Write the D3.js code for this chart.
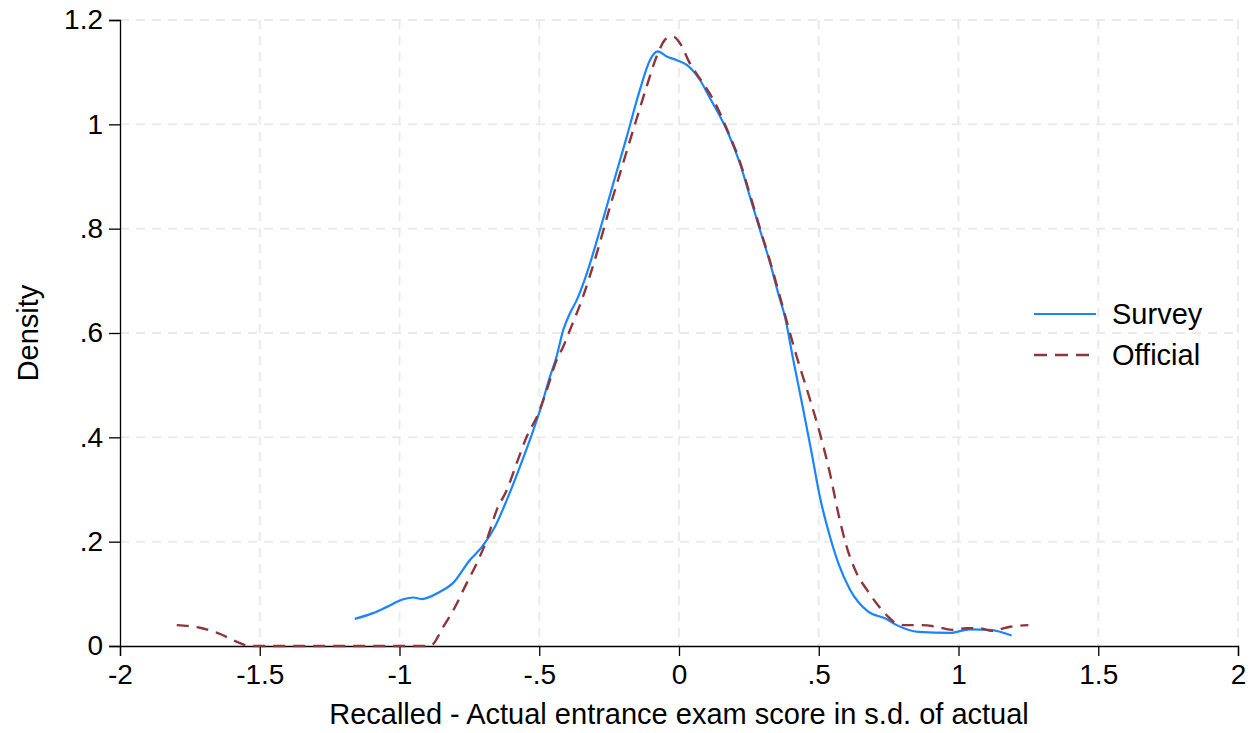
<!DOCTYPE html>
<html>
<head>
<meta charset="utf-8">
<script src="https://cdn.jsdelivr.net/npm/d3@7"></script>
<style>
  html, body { margin: 0; padding: 0; background: #fff; }
  svg { display: block; font-family: "Liberation Sans", Arial, Helvetica, sans-serif; }
</style>
</head>
<body>
<svg id="chart" width="1257" height="733"></svg>
<script>
// Kernel density of (recalled - actual) entrance exam score, two sources
const surveyX = [-1.16, -1.095, -1.045, -0.987, -0.951, -0.921, -0.855, -0.808, -0.748, -0.705, -0.658, -0.616, -0.569, -0.521, -0.497, -0.462, -0.438, -0.414, -0.39, -0.366, -0.33, -0.283, -0.235, -0.187, -0.14, -0.104, -0.076, -0.044, -0.008, 0.028, 0.075, 0.111, 0.147, 0.176, 0.218, 0.254, 0.29, 0.326, 0.355, 0.379, 0.409, 0.445, 0.475, 0.504, 0.54, 0.57, 0.612, 0.677, 0.737, 0.779, 0.856, 0.97, 1.041, 1.113, 1.19];
const surveyY = [0.052, 0.063, 0.075, 0.0895, 0.093, 0.090, 0.104, 0.121, 0.165, 0.190, 0.229, 0.280, 0.344, 0.414, 0.452, 0.516, 0.555, 0.606, 0.638, 0.663, 0.714, 0.797, 0.887, 0.976, 1.066, 1.123, 1.140, 1.130, 1.123, 1.114, 1.085, 1.050, 1.015, 0.983, 0.925, 0.861, 0.797, 0.734, 0.676, 0.631, 0.548, 0.452, 0.369, 0.286, 0.210, 0.159, 0.108, 0.066, 0.053, 0.040, 0.027, 0.025, 0.032, 0.031, 0.020];

const officialX = [-1.797, -1.714, -1.642, -1.582, -1.535, -1.2, -0.891, -0.843, -0.807, -0.76, -0.718, -0.688, -0.652, -0.616, -0.581, -0.545, -0.503, -0.473, -0.438, -0.414, -0.39, -0.348, -0.294, -0.247, -0.211, -0.164, -0.116, -0.08, -0.044, -0.02, 0.004, 0.039, 0.087, 0.123, 0.176, 0.218, 0.254, 0.29, 0.326, 0.361, 0.421, 0.469, 0.504, 0.54, 0.57, 0.6, 0.636, 0.672, 0.705, 0.743, 0.775, 0.81, 0.862, 0.922, 0.976, 1.029, 1.077, 1.119, 1.184, 1.25];
const officialY = [0.040, 0.035, 0.023, 0.008, 0.000, 0.000, 0.000, 0.037, 0.069, 0.120, 0.165, 0.203, 0.261, 0.299, 0.350, 0.401, 0.446, 0.491, 0.548, 0.574, 0.606, 0.663, 0.753, 0.842, 0.906, 0.989, 1.072, 1.130, 1.165, 1.168, 1.155, 1.117, 1.078, 1.047, 0.985, 0.928, 0.865, 0.800, 0.737, 0.670, 0.555, 0.472, 0.408, 0.331, 0.254, 0.190, 0.139, 0.108, 0.083, 0.059, 0.044, 0.040, 0.040, 0.037, 0.031, 0.034, 0.034, 0.029, 0.037, 0.040];

const xTicks = [-2, -1.5, -1, -0.5, 0, 0.5, 1, 1.5, 2];
const xTickLabels = ["-2", "-1.5", "-1", "-.5", "0", ".5", "1", "1.5", "2"];
const yTicks = [0, 0.2, 0.4, 0.6, 0.8, 1, 1.2];
const yTickLabels = ["0", ".2", ".4", ".6", ".8", "1", "1.2"];

const seriesNames = ["Survey", "Official"];
const seriesColors = ["#1a85ff", "#8f353b"];

const svg = d3.select("#chart");
const plot = { left: 120, right: 1238, top: 20, bottom: 646 };

const x = d3.scaleLinear().domain([-2, 2]).range([plot.left, plot.right]);
const y = d3.scaleLinear().domain([0, 1.2]).range([plot.bottom, plot.top]);

// grid lines
const grid = svg.append("g").attr("stroke", "#ebebeb").attr("stroke-width", 2).attr("stroke-dasharray", "9,7");
grid.selectAll("line.gx").data(xTicks.filter(d => d > -2)).join("line")
  .attr("x1", d => x(d)).attr("x2", d => x(d))
  .attr("y1", plot.top).attr("y2", plot.bottom);
grid.selectAll("line.gy").data(yTicks.filter(d => d > 0)).join("line")
  .attr("x1", plot.left).attr("x2", plot.right)
  .attr("y1", d => y(d)).attr("y2", d => y(d));

// axes
const xAxis = d3.axisBottom(x).tickValues(xTicks)
  .tickFormat((d, i) => xTickLabels[i]).tickSizeOuter(0).tickSize(10).tickPadding(8);
const yAxis = d3.axisLeft(y).tickValues(yTicks)
  .tickFormat((d, i) => yTickLabels[i]).tickSizeOuter(0).tickSize(11).tickPadding(6);

const gx = svg.append("g").attr("transform", `translate(0,${plot.bottom})`).call(xAxis);
const gy = svg.append("g").attr("transform", `translate(${plot.left},0)`).call(yAxis);
[gx, gy].forEach(g => {
  g.select(".domain").attr("stroke", "#000").attr("stroke-width", 1.3);
  g.selectAll(".tick line").attr("stroke", "#000").attr("stroke-width", 1.3);
  g.selectAll(".tick text").attr("fill", "#000").style("font-size", "28px")
    .style("font-family", '"Liberation Sans", Arial, sans-serif');
});

// axis titles
svg.append("text")
  .attr("x", (plot.left + plot.right) / 2).attr("y", 724)
  .attr("text-anchor", "middle").style("font-size", "29px").attr("fill", "#000")
  .text("Recalled - Actual entrance exam score in s.d. of actual");
svg.append("text")
  .attr("transform", `translate(38,${(plot.top + plot.bottom) / 2}) rotate(-90)`)
  .attr("text-anchor", "middle").style("font-size", "29px").attr("fill", "#000")
  .text("Density");

// density curves
const line = d3.line().x(d => x(d[0])).y(d => y(d[1])).curve(d3.curveMonotoneX);
const survey = surveyX.map((v, i) => [v, surveyY[i]]);
const official = officialX.map((v, i) => [v, officialY[i]]);

svg.append("path").datum(survey)
  .attr("fill", "none").attr("stroke", seriesColors[0]).attr("stroke-width", 2.2)
  .attr("d", line);
svg.append("path").datum(official)
  .attr("fill", "none").attr("stroke", seriesColors[1]).attr("stroke-width", 2.4)
  .attr("stroke-dasharray", "12,8")
  .attr("d", line);

// legend
const legend = svg.append("g");
const legendRows = [
  { name: seriesNames[0], color: seriesColors[0], dash: null, width: 2.2, y: 314 },
  { name: seriesNames[1], color: seriesColors[1], dash: "13,8", width: 2.4, y: 355 }
];
legendRows.forEach(r => {
  legend.append("line")
    .attr("x1", 1034).attr("x2", 1096).attr("y1", r.y).attr("y2", r.y)
    .attr("stroke", r.color).attr("stroke-width", r.width)
    .attr("stroke-dasharray", r.dash);
  legend.append("text")
    .attr("x", 1112).attr("y", r.y + 10)
    .style("font-size", "29px").attr("fill", "#000")
    .text(r.name);
});
</script>
</body>
</html>
